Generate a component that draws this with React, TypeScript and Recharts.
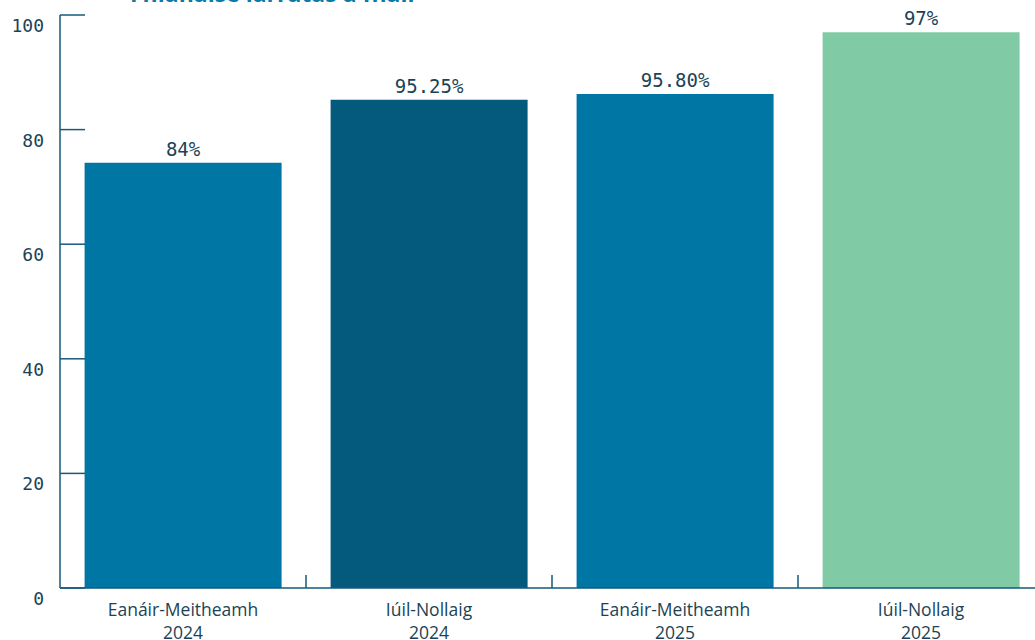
import { BarChart, Bar, XAxis, YAxis, Cell, LabelList } from 'recharts';

const periods = ['Eanáir-Meitheamh', 'Iúil-Nollaig', 'Eanáir-Meitheamh', 'Iúil-Nollaig'];
const years = ['2024', '2024', '2025', '2025'];
const values = [74.2, 85.2, 86.2, 97.0];
const valueLabels = ['84%', '95.25%', '95.80%', '97%'];
const barColours = ['#0076a5', '#045a7c', '#0076a5', '#80cba5'];
const yTicks = [0, 20, 40, 60, 80, 100];

const data = periods.map((p, i) => ({
  key: `${p}|${years[i]}`,
  period: p,
  year: years[i],
  value: values[i],
  label: valueLabels[i],
}));

const AXIS = '#17597a';
const TEXT = '#1b4355';
const AXIS_X = 52; // margin.left + yAxis width
const AXIS_Y = 610; // bottom of plot area
const BAND = 246;

const YTick = (props: any) => {
  const { y, payload } = props;
  return (
    <g>
      <line x1={AXIS_X} x2={AXIS_X + 25} y1={y} y2={y} stroke={AXIS} strokeWidth={1.5} />
      <text
        x={AXIS_X - 16}
        y={y + 17}
        textAnchor="end"
        fill={TEXT}
        fontFamily="DejaVu Sans Mono"
        fontSize={18}
      >
        {payload.value}
      </text>
    </g>
  );
};

const XTick = (props: any) => {
  const { x, payload, index } = props;
  const [period, year] = String(payload.value).split('|');
  return (
    <g>
      {index < periods.length - 1 && (
        <line x1={x + BAND / 2} x2={x + BAND / 2} y1={AXIS_Y} y2={AXIS_Y - 13} stroke={AXIS} strokeWidth={1.5} />
      )}
      <text x={x} y={638} textAnchor="middle" fill={TEXT} fontFamily="Open Sans" fontSize={17.5}>
        {period}
      </text>
      <text x={x} y={661} textAnchor="middle" fill={TEXT} fontFamily="Open Sans" fontSize={17.5}>
        {year}
      </text>
    </g>
  );
};

const ValueLabel = (props: any) => {
  const { x, y, width, value } = props;
  return (
    <text
      x={x + width / 2}
      y={y - 7}
      textAnchor="middle"
      fill={TEXT}
      fontFamily="DejaVu Sans Mono"
      fontSize={19}
    >
      {value}
    </text>
  );
};

export default function App() {
  return (
    <div style={{ width: 1035, height: 640, overflow: 'hidden', position: 'relative' }}>
      <style>{'body { margin: 0; overflow: hidden; }'}</style>
      <BarChart
        width={1060}
        height={662}
        data={data}
        margin={{ top: 37, right: 24, left: 0, bottom: 0 }}
        barCategoryGap="10%"
        style={{ position: 'absolute', left: 8, top: -22 }}
      >
        <text x={122} y={24} fill="#0a7aa8" fontFamily="Open Sans" fontWeight={700} fontSize={23}>
          Fhianaise iarratas a fháil
        </text>
        <XAxis
          dataKey="key"
          tick={<XTick />}
          tickLine={false}
          axisLine={{ stroke: AXIS, strokeWidth: 1.5 }}
          height={52}
          interval={0}
        />
        <YAxis
          domain={[0, 100]}
          ticks={yTicks}
          tick={<YTick />}
          tickLine={false}
          axisLine={{ stroke: AXIS, strokeWidth: 1.5 }}
          width={52}
        />
        <Bar dataKey="value" isAnimationActive={false}>
          {data.map((d, i) => (
            <Cell key={d.key} fill={barColours[i]} />
          ))}
          <LabelList dataKey="label" content={<ValueLabel />} />
        </Bar>
      </BarChart>
    </div>
  );
}
